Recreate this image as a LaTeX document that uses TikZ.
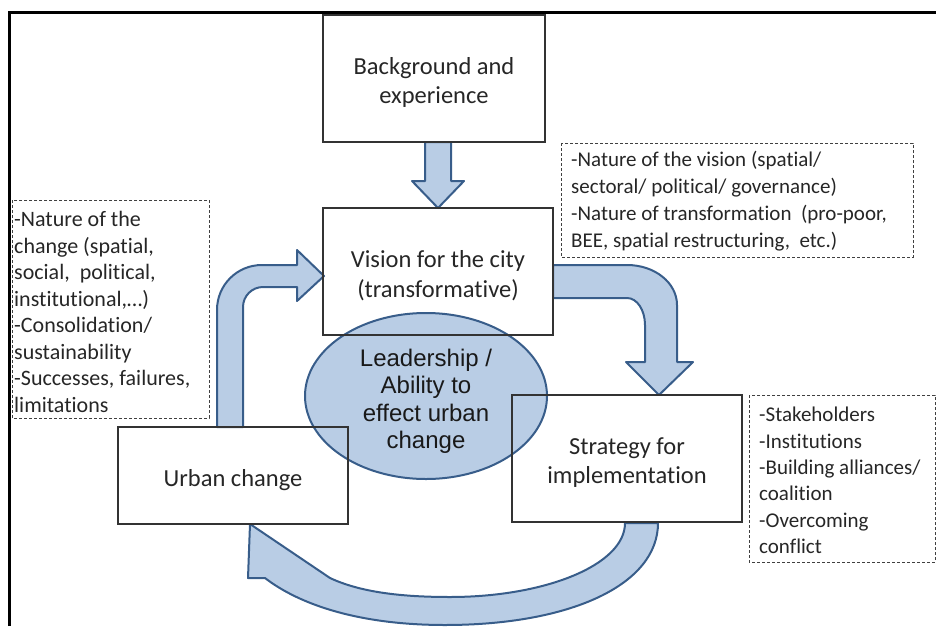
\documentclass[tikz,border=0pt]{standalone}
\usepackage{fontspec}
\setmainfont{Carlito}[Ligatures=NoCommon]
\newfontfamily\arialf{Liberation Sans}
\usetikzlibrary{shapes.geometric}
\definecolor{afill}{HTML}{B9CDE5}
\definecolor{aline}{HTML}{385D8A}
\definecolor{txt}{HTML}{262626}
\tikzset{
  mainbox/.style={draw=black!80, line width=1.1pt, align=center, text=txt, inner sep=0pt,
    font=\fontsize{24.5}{29.5}\selectfont},
  dashbox/.style={draw=black!75, dashed, dash pattern=on 3pt off 2pt, line width=0.9pt},
  notetext/.style={anchor=west, align=left, text=txt, inner sep=0pt},
  blockarrow/.style={draw=aline, fill=afill, line width=2pt, line join=round},
  frameline/.style={draw=black, line width=3pt}
}
\newcommand{\tstrut}[1]{\rule{0pt}{#1}}
\begin{document}
\begin{tikzpicture}[x=1pt,y=-1pt]
\useasboundingbox (0,0) rectangle (936,626);
% frame
\draw[frameline] (9,626) -- (9,13) -- (936,13);

% note boxes
\draw[dashbox] (12,200) rectangle (209,418);
\node[notetext, font=\fontsize{22}{26.5}\selectfont] (notesL) at (14,312)
 {-Nature of the\\change (spatial,\\social,\ \ political,\\institutional,…)\\-Consolidation/\\sustainability\\-Successes, failures,\\limitations};
\draw[dashbox] (561,143) rectangle (913,257);
\node[notetext, font=\fontsize{21}{27}\selectfont] (notesTR) at (571,201)
 {-Nature of the vision (spatial/\\sectoral/ political/ governance)\\-Nature of transformation\ \ (pro-poor,\\BEE, spatial restructuring,\ \ etc.)};
\draw[dashbox] (749,395) rectangle (935,562);
\node[notetext, font=\fontsize{21}{26.4}\selectfont] (notesBR) at (759,480.5)
 {-Stakeholders\\-Institutions\\-Building alliances/\\coalition\\-Overcoming\\conflict};

% block arrows
% background -> vision
\draw[blockarrow] (425,142) -- (425,181) -- (412,181) -- (438,208) -- (464,181) -- (451,181) -- (451,142) -- cycle;
% urban change -> vision
\draw[blockarrow] (217,427) -- (217,310) .. controls (217,285) and (237,265) .. (262,265)
  -- (297,265) -- (297,250) -- (324,276) -- (297,301) -- (297,287) -- (263,287)
  .. controls (252,287) and (243,296) .. (243,307) -- (243,427) -- cycle;
% vision -> strategy
\draw[blockarrow] (553,265) -- (627,265) .. controls (655,265) and (677,283) .. (677,305)
  -- (677,362) -- (693,362) -- (659,395) -- (626,362) -- (645,362) -- (645,325)
  .. controls (645,310) and (637,298) .. (627,298) -- (553,298) -- cycle;
% strategy -> urban change
\draw[blockarrow] (658,523) .. controls (658,585) and (570,625) .. (445,625)
  .. controls (360,625) and (300,605) .. (265,578) -- (248,578) -- (250,524) -- (330,578)
  .. controls (360,592) and (400,597) .. (450,597)
  .. controls (545,597) and (625,565) .. (625,523) -- cycle;

% leadership ellipse
\node[ellipse, draw=aline, fill=afill, line width=2pt, minimum width=242pt, minimum height=166pt,
  inner sep=0pt, align=center, text=black!90, font=\arialf\fontsize{24}{27.5}\selectfont] (lead) at (426,396)
 {\tstrut{28pt}Leadership /\\Ability to\\effect urban\\change};

% main boxes
\node[mainbox, minimum width=222pt, minimum height=127pt] (bg) at (434,78.5) {\tstrut{24.5pt}Background and\\experience};
\node[mainbox, minimum width=230pt, minimum height=127pt] (vision) at (438,271.5) {\tstrut{25pt}Vision for the city\\(transformative)};
\node[mainbox, minimum width=230pt, minimum height=97pt] (urban) at (233,475.5) {\tstrut{26pt}Urban change};
\node[mainbox, minimum width=230pt, minimum height=127pt] (strategy) at (627,458.5) {\tstrut{25pt}Strategy for\\implementation};
\end{tikzpicture}
\end{document}
